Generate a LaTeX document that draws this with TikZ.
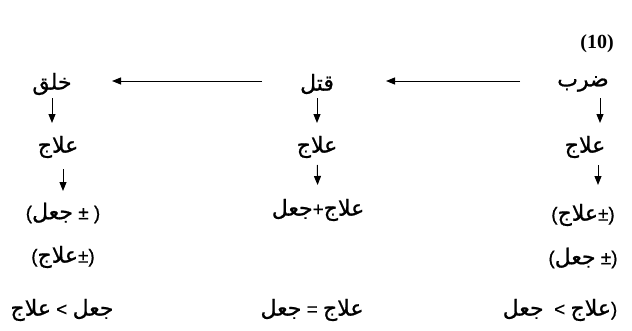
\documentclass[tikz,border=0pt]{standalone}
\usepackage{fontspec}
\usetikzlibrary{arrows.meta}
\TeXXeTstate=1
\setmainfont{Liberation Serif}
\newfontfamily\arabicfont[Script=Arabic,FakeBold=0.8]{DejaVu Sans}
\newfontfamily\symfont[FakeBold=0.6]{Liberation Sans}
\newcommand\ar[1]{{\arabicfont\beginR #1\endR}}
\newcommand\sy[1]{{\symfont\fontsize{19}{21}\selectfont #1}}
\tikzset{
  word/.style={inner sep=1pt, font=\fontsize{22}{24}\selectfont},
  arr/.style={line width=1pt, -{Triangle[length=9pt,width=7pt]}}
}
\begin{document}
\begin{tikzpicture}[x=1pt,y=-1pt]
\useasboundingbox (0,0) rectangle (632,330);
\node[font=\bfseries\fontsize{20}{22}\selectfont] (num) at (597,44) {(10)};
% row 1
\node[word] (k1) at (52,84) {\ar{خلق}};
\node[word] (q1) at (317,84) {\ar{قتل}};
\node[word] (d1) at (583,84) {\ar{ضرب}};
% row 2
\node[word] (k2) at (58,147) {\ar{علاج}};
\node[word] (q2) at (317,147) {\ar{علاج}};
\node[word] (d2) at (585,147) {\ar{علاج}};
% row 3
\node[word] (k3) at (63,213) {\sy{(}\ar{جعل}\sy{ ± )}};
\node[word] (q3) at (318,210) {\ar{جعل}\sy{+}\ar{علاج}};
\node[word] (d3) at (583,215) {\sy{(}\ar{علاج}\sy{±)}};
% row 4
\node[word] (k4) at (63,257) {\sy{(}\ar{علاج}\sy{±)}};
\node[word] (d4) at (583,258) {\sy{(}\ar{جعل}\sy{ ±)}};
% row 5
\node[word] (k5) at (62,310) {\ar{علاج}\sy{ < }\ar{جعل}};
\node[word] (q5) at (312,310) {\ar{جعل}\sy{ = }\ar{علاج}};
\node[word] (d5) at (560,310) {\ar{جعل}\sy{\ \ < }\ar{علاج}\sy{)}};
% horizontal arrows
\draw[arr, shorten <=63pt, shorten >=69pt] ([yshift=3pt]d1.center) -- ([yshift=3pt]q1.center);
\draw[arr, shorten <=55pt, shorten >=60pt] ([yshift=3pt]q1.center) -- ([yshift=3pt]k1.center);
% first down arrows
\draw[arr, shorten <=14pt, shorten >=24pt] (k1.center) -- (k1.center |- k2.center);
\draw[arr, shorten <=14pt, shorten >=24pt] (q1.center) -- (q2.center);
\draw[arr, shorten <=14pt, shorten >=24pt] (d1.center -| 600,0) -- (d2.center -| 600,0);
% second down arrows
\draw[arr, shorten <=22pt, shorten >=22pt] (k2.center -| k3.center) -- (k3.center);
\draw[arr, shorten <=18pt, shorten >=25pt] (q2.center) -- (q3.center);
\draw[arr, shorten <=18pt, shorten >=30pt] (d2.center -| 598,0) -- (d3.center -| 598,0);
\end{tikzpicture}
\end{document}
